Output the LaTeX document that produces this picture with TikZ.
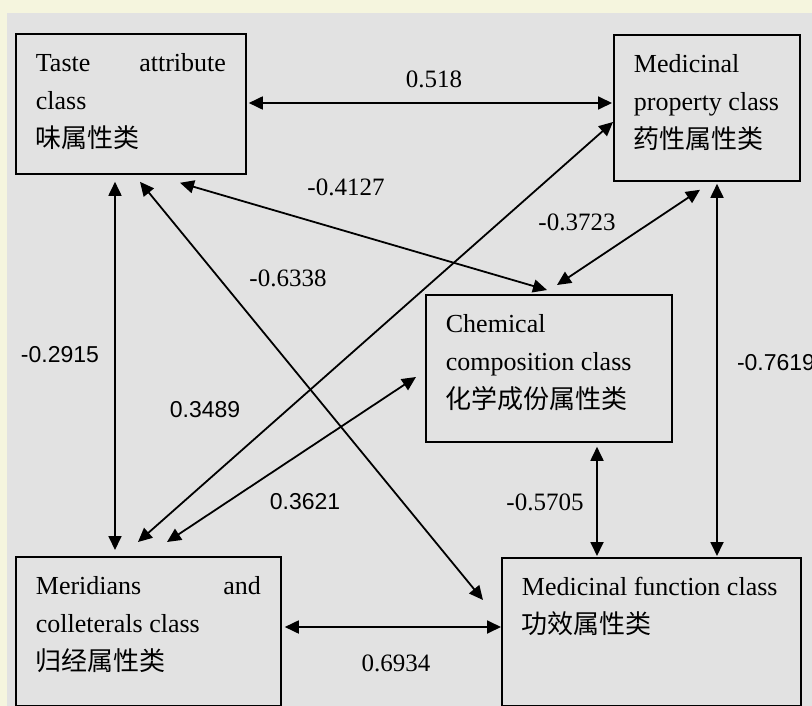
\documentclass[tikz,border=0pt]{standalone}
\usepackage{fontspec}
\setmainfont{Liberation Serif}
\newfontfamily\cjk{Noto Sans CJK SC}
\newfontfamily\numsans{Liberation Sans}
\usetikzlibrary{arrows.meta}
\definecolor{paper}{RGB}{245,245,222}
\definecolor{panel}{RGB}{226,226,226}

\begin{document}
\begin{tikzpicture}[x=1pt,y=-1pt,
    box/.style={draw,line width=1.8pt,anchor=north west,inner xsep=20pt,inner ysep=0pt,
      font=\fontsize{26}{38}\selectfont},
    link/.style={{Triangle[length=14pt,width=13pt]}-{Triangle[length=14pt,width=13pt]},line width=1.8pt},
    coef/.style={inner sep=0pt,font=\fontsize{25}{25}\selectfont},
    coefsf/.style={inner sep=0pt,font=\numsans\fontsize{23}{23}\selectfont}]
  \newcommand{\attrBox}[3]{\parbox[c][#2][t]{#1}{\vspace*{11pt}\strut#3}}

  \useasboundingbox (0,0) rectangle (812,706);
  \fill[paper] (0,0) rectangle (812,706);
  \fill[panel] (7,13) rectangle (812,706);

  % the five attribute classes
  \node[box] (taste) at (15,33) {\attrBox{190pt}{140pt}{Taste\hfill attribute\\class\\{\cjk 味属性类}}};
  \node[box] (prop) at (613,34) {\attrBox{146pt}{146pt}{Medicinal\\property class\\{\cjk 药性属性类}}};
  \node[box] (chem) at (425,294) {\attrBox{206pt}{147pt}{Chemical\\composition class\\{\cjk 化学成份属性类}}};
  \node[box] (merid) at (15,556) {\attrBox{225pt}{149pt}{Meridians\hfill and\\colleterals class\\{\cjk 归经属性类}}};
  \node[box] (func) at (501,557) {\attrBox{259pt}{148pt}{Medicinal function class\\{\cjk 功效属性类}}};

  % correlations
  \draw[link] ([shift={(2,70)}]taste.north east) -- ([shift={(-1,69)}]prop.north west);
  \draw[link] ([shift={(100,7)}]taste.south west) -- ([shift={(100,-6)}]merid.north west);
  \draw[link] ([shift={(125,7)}]taste.south west) -- ([shift={(-18,43)}]func.north west);
  \draw[link] ([shift={(165,8)}]taste.south west) -- ([shift={(122,-4)}]chem.north west);
  \draw[link] ([shift={(87,8)}]prop.south west) -- ([shift={(132,-9)}]chem.north west);
  \draw[link] ([shift={(0,88)}]prop.north west) -- ([shift={(123,-14)}]merid.north west);
  \draw[link] ([shift={(-9,83)}]chem.north west) -- ([shift={(152,-14)}]merid.north west);
  \draw[link] ([shift={(104,2)}]prop.south west) -- ([shift={(216,-1)}]func.north west);
  \draw[link] ([shift={(172,4)}]chem.south west) -- ([shift={(96,-1)}]func.north west);
  \draw[link] ([shift={(3,71)}]merid.north east) -- ([shift={(0,70)}]func.north west);

  \node[coef] (c518) at (434,79) {0.518};
  \node[coef] (c4127) at (346,187) {-0.4127};
  \node[coef] (c3723) at (577,222) {-0.3723};
  \node[coef] (c6338) at (288,278) {-0.6338};
  \node[coefsf] (c2915) at (60,355) {-0.2915};
  \node[coefsf] (c3489) at (205,410) {0.3489};
  \node[coefsf] (c7619) at (776,363) {-0.7619};
  \node[coefsf] (c3621) at (305,502) {0.3621};
  \node[coef] (c5705) at (545,502) {-0.5705};
  \node[coef] (c6934) at (396,663) {0.6934};
\end{tikzpicture}
\end{document}
